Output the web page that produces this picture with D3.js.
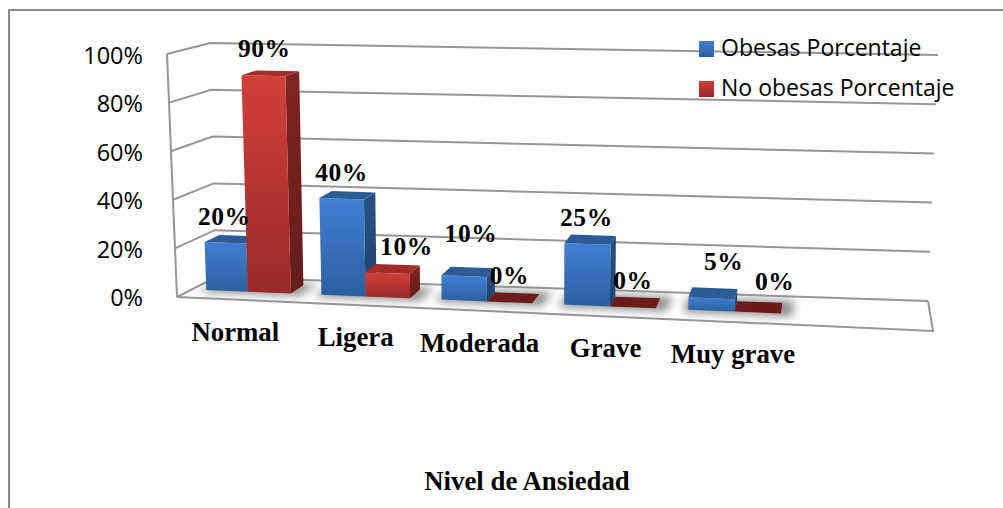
<!DOCTYPE html>
<html>
<head>
<meta charset="utf-8">
<title>Nivel de Ansiedad</title>
<script src="https://d3js.org/d3.v7.min.js"></script>
<style>
    html, body { margin: 0; padding: 0; background: #fff; overflow: hidden; }
    .sans { font-family: "Open Sans", sans-serif; fill: #000; }
    .serif { font-family: "Liberation Serif", serif; font-weight: bold; fill: #000; }
</style>
</head>
<body>
<script>
    const categories = ["Normal", "Ligera", "Moderada", "Grave", "Muy grave"];
    const seriesNames = ["Obesas Porcentaje", "No obesas Porcentaje"];
    const obesas = [20, 40, 10, 25, 5];
    const noObesas = [90, 10, 0, 0, 0];
    const yTicks = [0, 20, 40, 60, 80, 100];
    const tickLabels = ["0%", "20%", "40%", "60%", "80%", "100%"];

    const width = 1003, height = 508;
    const svg = d3.select("body").append("svg")
        .attr("width", width).attr("height", height);

    // corners of the 3d box: front/back, left/right, at 0% and at 100%
    const box = {
        low:  { fl: [177, 297], bl: [216, 277], fr: [933, 331], br: [928, 301] },
        high: { fl: [167, 54],  bl: [210, 43],  fr: [943, 75],  br: [938, 55] }
    };
    const yPos = d3.scaleLinear().domain([0, 100]).range([0, 1]);

    function project(u, d, value) {
        const t = yPos(value);
        const mix = (c) => {
            const a = box.low[c], b = box.high[c];
            return [a[0] + (b[0] - a[0]) * t, a[1] + (b[1] - a[1]) * t];
        };
        const fl = mix("fl"), fr = mix("fr"), bl = mix("bl"), br = mix("br");
        const front = [d3.interpolate(fl[0], fr[0])(u), d3.interpolate(fl[1], fr[1])(u)];
        const back = [d3.interpolate(bl[0], br[0])(u), d3.interpolate(bl[1], br[1])(u)];
        return [d3.interpolate(front[0], back[0])(d), d3.interpolate(front[1], back[1])(d)];
    }

    // categories along the floor, slightly stretched by the perspective
    const xBand = d3.scaleBand().domain(categories).range([0.0013, 0.8253]).paddingInner(0.26).paddingOuter(0.13);
    const xSub = d3.scaleBand().domain([0, 1]).range([0, xBand.bandwidth()]);
    const persp = d3.scalePow().exponent(1.04).domain([0, 1]).range([0, 1]);
    const dFront = 0.38, dBack = 0.76;

    const line = d3.line().curve(d3.curveLinearClosed);
    const open = d3.line();

    const defs = svg.append("defs");
    function grad(id, top, bottom) {
        const g = defs.append("linearGradient").attr("id", id)
            .attr("x1", 0).attr("y1", 0).attr("x2", 0).attr("y2", 1);
        g.append("stop").attr("offset", "0%").attr("stop-color", top);
        g.append("stop").attr("offset", "100%").attr("stop-color", bottom);
    }
    grad("blueFront", "#3f80d2", "#2d5f9f");
    grad("blueSide", "#28507f", "#1f4270");
    grad("redFront", "#d23f3a", "#98292a");
    grad("redSide", "#7f2422", "#641c1b");
    defs.append("filter").attr("id", "blur")
        .attr("x", "-30%").attr("y", "-80%").attr("width", "160%").attr("height", "260%")
        .append("feGaussianBlur").attr("stdDeviation", 4);

    // outer frame (only top and left show)
    svg.append("path")
        .attr("d", open([[9, height], [9, 10], [width, 10]]))
        .attr("fill", "none").attr("stroke", "#8c8c8c").attr("stroke-width", 2);

    // walls and floor
    const grid = svg.append("g").attr("fill", "none").attr("stroke", "#969696").attr("stroke-width", 2);
    grid.selectAll(".gl").data(yTicks).enter().append("path")
        .attr("class", "gl")
        .attr("d", v => open([project(0, 0, v), project(0, 1, v), project(1, 1, v)]));
    grid.append("path").attr("d", open([project(0, 0, 0), project(0, 0, 100)]));
    grid.append("path").attr("d", open([project(1, 1, 0), project(1, 0, 0), project(0, 0, 0)]));

    // y labels
    const yAxis = d3.scaleLinear().domain([0, 100]).range([298, 56]);
    const axisG = svg.append("g").attr("transform", "translate(145,0)")
        .call(d3.axisLeft(yAxis).tickValues(yTicks).tickSize(0).tickPadding(2)
            .tickFormat((d, i) => tickLabels[i]));
    axisG.select(".domain").remove();
    axisG.selectAll("text").attr("class", "sans").style("font-size", "23.5px").attr("fill", null);

    function corners(cat, s, value) {
        const u0 = persp(xBand(cat) + xSub(s));
        const u1 = persp(xBand(cat) + xSub(s) + xSub.bandwidth());
        return {
            front: [project(u0, dFront, 0), project(u1, dFront, 0), project(u1, dFront, value), project(u0, dFront, value)],
            side: [project(u1, dFront, 0), project(u1, dBack, 0), project(u1, dBack, value), project(u1, dFront, value)],
            top: [project(u0, dFront, value), project(u1, dFront, value), project(u1, dBack, value), project(u0, dBack, value)]
        };
    }

    // soft shadows on the floor
    svg.append("g").selectAll("path").data(categories).enter().append("path")
        .attr("fill", "#8f8f8f").attr("filter", "url(#blur)")
        .attr("d", c => {
            const u0 = persp(xBand(c)) - 0.006;
            const u1 = persp(xBand(c) + xBand.bandwidth()) + 0.016;
            return line([project(u0, 0.28, 0), project(u1, 0.28, 0), project(u1, 0.84, 0), project(u0, 0.84, 0)]);
        });

    const series = [
        { values: obesas, front: "url(#blueFront)", side: "url(#blueSide)", top: "#2b5c98" },
        { values: noObesas, front: "url(#redFront)", side: "url(#redSide)", top: "#a52c2a" }
    ];

    const bars = svg.append("g");
    categories.forEach((cat, i) => {
        series.forEach((sr, s) => {
            const value = sr.values[i];
            const c = corners(cat, s, value);
            const g = bars.append("g");
            if (value > 0) {
                g.append("path").attr("d", line(c.side)).attr("fill", sr.side);
                g.append("path").attr("d", line(c.front)).attr("fill", sr.front);
                g.append("path").attr("d", line(c.top)).attr("fill", sr.top);
            } else {
                g.append("path").attr("d", line(c.top)).attr("fill", "#6b1c1a");
            }
        });
    });

    // data labels; a few were moved by hand in the original chart
    const labelNudge = {
        "0-0": [-1, 0], "0-1": [1, -1], "1-0": [0, 0], "1-1": [19, 0],
        "2-0": [7, -16], "2-1": [0, 0], "3-0": [-1, 0], "3-1": [0, 0],
        "4-0": [12, -10], "4-1": [17, -5]
    };
    series.forEach((sr, s) => {
        svg.append("g").selectAll("text").data(sr.values).enter().append("text")
            .attr("class", "serif").style("font-size", "25.5px").style("letter-spacing", "0.6px")
            .attr("text-anchor", "middle")
            .attr("x", (v, i) => {
                const u = persp(xBand(categories[i]) + xSub(s) + xSub.bandwidth() / 2);
                return project(u, dFront, v)[0] + labelNudge[i + "-" + s][0];
            })
            .attr("y", (v, i) => {
                const u = persp(xBand(categories[i]) + xSub(s) + xSub.bandwidth() / 2);
                return project(u, dFront, v)[1] - 18 + labelNudge[i + "-" + s][1];
            })
            .text(v => v + "%");
    });

    // category names sit under the front edge of the floor
    svg.append("g").selectAll("text").data(categories).enter().append("text")
        .attr("class", "serif").style("font-size", "26.8px").attr("text-anchor", "middle")
        .attr("x", c => project(persp(xBand(c) + xBand.bandwidth() / 2), 0, 0)[0] + 1)
        .attr("y", c => project(persp(xBand(c) + xBand.bandwidth() / 2), 0, 0)[1] + 41)
        .text(c => c);

    svg.append("text").attr("class", "serif").style("font-size", "26.8px")
        .attr("text-anchor", "middle").attr("x", 527).attr("y", 490)
        .text("Nivel de Ansiedad");

    // legend
    const legend = svg.append("g").selectAll("g").data(seriesNames).enter().append("g")
        .attr("transform", (d, i) => "translate(699," + (41 + i * 40) + ")");
    legend.append("rect").attr("width", 15).attr("height", 16)
        .attr("fill", (d, i) => series[i].front);
    legend.append("text").attr("class", "sans").style("font-size", "23px")
        .attr("x", 22).attr("y", 15).text(d => d);
</script>
</body>
</html>
